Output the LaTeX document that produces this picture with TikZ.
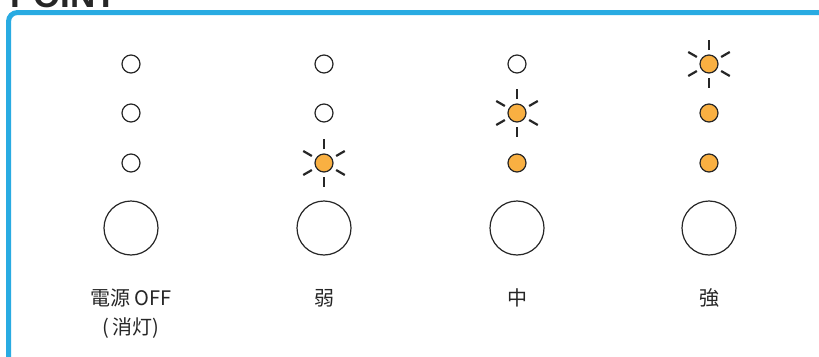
\documentclass[tikz,border=0pt]{standalone}
\usepackage{fontspec}
\setmainfont{Noto Sans}
\newfontfamily\cjk{Noto Sans CJK JP}
\newfontfamily\titlefont{Liberation Sans}
\definecolor{pblue}{HTML}{29ABE2}
\definecolor{lit}{HTML}{F9B042}
\begin{document}
\begin{tikzpicture}[x=1pt,y=-1pt,
  led/.style={circle,draw=black!85,line width=1.2pt,inner sep=0pt,minimum size=18pt,fill=white},
  onled/.style={led,fill=lit},
  btn/.style={circle,draw=black!85,line width=1.2pt,inner sep=0pt,minimum size=54pt,fill=white},
  ray/.style={line width=2.2pt,black!85},
  lbl/.style={font=\cjk\fontsize{20}{24}\selectfont,text=black!85,inner sep=0pt}]
\useasboundingbox (0,0) rectangle (819,356);
\begin{scope}
\clip (0,0) rectangle (819,356);
\node[anchor=base west,font=\titlefont\bfseries\fontsize{35}{40}\selectfont,text=black!85,inner sep=0pt] (title) at (10,7) {POINT};
\draw[pblue,line width=5pt,rounded corners=9pt] (8.5,380) -- (8.5,12.5) -- (840,12.5);
\end{scope}
% column 1: off
\node[led] (a1) at (131,64) {};
\node[led] (a2) at (131,113) {};
\node[led] (a3) at (131,163) {};
\node[btn] (ab) at (131,228) {};
\node[lbl] (al) at (131,298) {電源 OFF};
\node[lbl] (al2) at (131,328) {(\,消灯)};
% column 2: weak
\node[led] (b1) at (324,64) {};
\node[led] (b2) at (324,113) {};
\node[onled] (b3) at (324,163) {};
\node[btn] (bb) at (324,228) {};
\node[lbl] (bl) at (324,298) {弱};
% column 3: mid
\node[led] (c1) at (517,64) {};
\node[onled] (c2) at (517,113) {};
\node[onled] (c3) at (517,163) {};
\node[btn] (cb) at (517,228) {};
\node[lbl] (cl) at (517,298) {中};
% column 4: strong
\node[onled] (d1) at (709,64) {};
\node[onled] (d2) at (709,113) {};
\node[onled] (d3) at (709,163) {};
\node[btn] (db) at (709,228) {};
\node[lbl] (dl) at (709,298) {強};
% rays
\foreach \n in {b3,c2,d1}{
  \foreach \a in {30,90,150,210,270,330}{
    \draw[ray] (\n.center) ++(-\a:14) -- ++(-\a:10);
  }
}
\end{tikzpicture}
\end{document}
